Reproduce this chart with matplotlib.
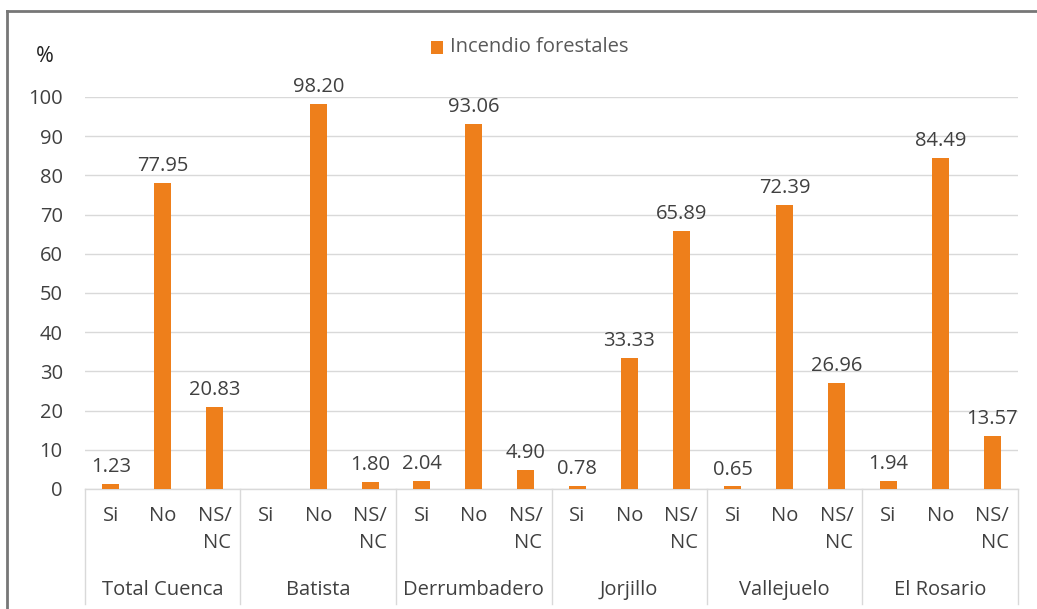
import numpy as np
import matplotlib
matplotlib.use("Agg")
import matplotlib.pyplot as plt
from matplotlib.lines import Line2D
from matplotlib.patches import Rectangle

groups = ["Total Cuenca", "Batista", "Derrumbadero", "Jorjillo", "Vallejuelo", "El Rosario"]
categories = ["Si", "No", "NS/\nNC"]
values = [
    [1.23, 77.95, 20.83],
    [np.nan, 98.20, 1.80],
    [2.04, 93.06, 4.90],
    [0.78, 33.33, 65.89],
    [0.65, 72.39, 26.96],
    [1.94, 84.49, 13.57],
]
series_name = "Incendio forestales"
yticks = list(range(0, 101, 10))

W, H = 1037, 609
plt.rcParams['font.family'] = ['Open Sans', 'DejaVu Sans']
fig = plt.figure(figsize=(W / 100, H / 100), dpi=100)
fig.patch.set_facecolor('white')

left_px, right_px, top_px, bot_px = 85, 1018, 97, 489
ax = fig.add_axes([left_px / W, 1 - bot_px / H, (right_px - left_px) / W, (bot_px - top_px) / H])

bar_color = '#EE7F1B'
text_color = '#404040'
grid_color = '#D9D9D9'
FS = 14.5

n_cat = len(categories)
xs, ys = [], []
for g, vals in enumerate(values):
    for c, v in enumerate(vals):
        xs.append(g * n_cat + c)
        ys.append(v)
xs = np.array(xs)
ys = np.array(ys, dtype=float)

ax.bar(xs, np.nan_to_num(ys), width=0.33, color=bar_color, zorder=3)
for x, v in zip(xs, ys):
    if np.isnan(v):
        continue
    ax.annotate(f"{v:.2f}", (x, v), xytext=(0, 5), textcoords='offset points',
                ha='center', va='bottom', fontsize=FS, color=text_color,
                annotation_clip=False)

ax.set_xlim(-0.5, len(groups) * n_cat - 0.5)
ax.set_ylim(0, 100)
ax.set_yticks(yticks)
ax.set_yticklabels([str(t) for t in yticks], fontsize=FS, color=text_color)
ax.tick_params(axis='y', length=0, pad=16)
ax.set_xticks([])
ax.yaxis.grid(True, color=grid_color, linewidth=1, zorder=0)
for s in ['top', 'right', 'left']:
    ax.spines[s].set_visible(False)
ax.spines['bottom'].set_color(grid_color)
ax.spines['bottom'].set_linewidth(1)
ax.set_facecolor('white')

# multi-level axis labels
trans = ax.get_xaxis_transform()
def ypx(p):
    return (bot_px - p) / (bot_px - top_px)

for g, name in enumerate(groups):
    for c, cat in enumerate(categories):
        x = g * n_cat + c
        ax.text(x, ypx(506), cat, transform=trans, ha='center', va='top',
                fontsize=FS, color=text_color, multialignment='right',
                linespacing=1.45, clip_on=False)
    ax.text(g * n_cat + 1, ypx(590), name, transform=trans, ha='center', va='center',
            fontsize=FS, color=text_color, clip_on=False)

for k in range(len(groups) + 1):
    xb = k * n_cat - 0.5
    ax.add_line(Line2D([xb, xb], [0, ypx(604)], transform=trans, color=grid_color,
                       linewidth=1, clip_on=False))

# percent label
fig.text(45 / W, 1 - 57 / H, "%", ha='center', va='center', fontsize=15.5, color='#222222')

# legend
fig.patches.append(Rectangle((431 / W, 1 - 54 / H), 12 / W, 13 / H, transform=fig.transFigure,
                             facecolor=bar_color, edgecolor='none'))
fig.text(450 / W, 1 - 47 / H, series_name, ha='left', va='center', fontsize=FS, color='#595959')

# outer frame (cropped)
fig.add_artist(Line2D([7 / W, 7 / W], [0, 1 - 11 / H], transform=fig.transFigure,
                      color='#777777', linewidth=2))
fig.add_artist(Line2D([7 / W, 1], [1 - 11 / H, 1 - 11 / H], transform=fig.transFigure,
                      color='#777777', linewidth=2))

fig.savefig("out.png", dpi=100)
